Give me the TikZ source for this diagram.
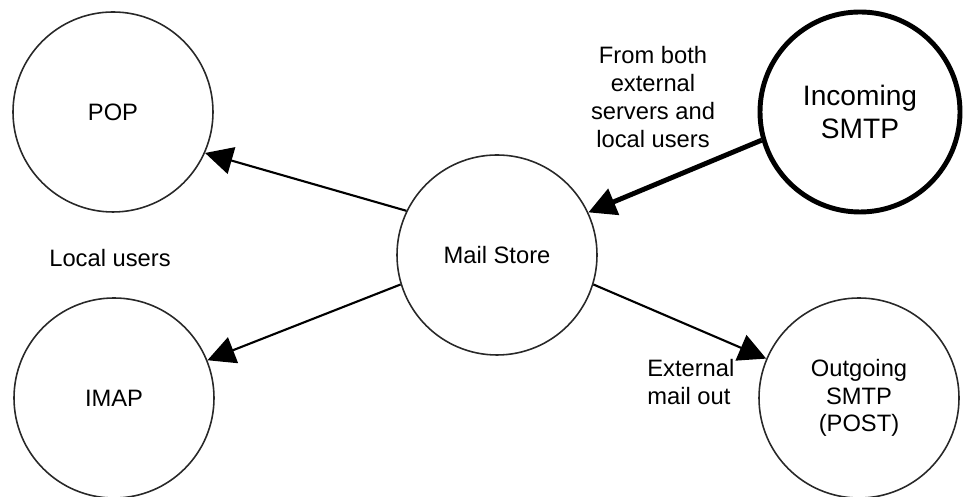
\documentclass[tikz,border=0pt]{standalone}
\usepackage{fontspec}
\setmainfont{Liberation Sans}
\usepackage{xcolor}
\definecolor{ringgray}{RGB}{40, 40, 40}
\usepackage{tikz}
\usetikzlibrary{arrows.meta,positioning,calc}

\begin{document}
\begin{tikzpicture}[
    font=\fontsize{13.5}{15.8}\selectfont,
    proto/.style={circle, draw=ringgray, line width=0.9pt, minimum size=4cm, inner sep=0pt, align=center},
    hub/.style={proto, line width=2.8pt, draw=black, font=\fontsize{16}{18.5}\selectfont},
    note/.style={align=center, inner sep=0pt},
    arrow/.style={-{Triangle[length=0.55cm,width=0.55cm]}, line width=1.2pt},
    fat arrow/.style={arrow, line width=2.8pt}
]
\useasboundingbox (0,0) rectangle (19.34,9.94);

\node[proto] (store) at (9.94,4.84) {Mail Store};

\node[proto] (pop) at (2.26,7.70) {POP};
\node[proto] (imap) at (2.28,1.98) {IMAP};
\node[hub] (incoming) at (17.20,7.70) {Incoming\\SMTP};
\node[proto] (outgoing) at (17.18,1.98) {Outgoing\\SMTP\\(POST)};

% labels
\node[note] (fromboth) at (13.06,8.00) {From both\\external\\servers and\\local users};
\node[note] (localusers) at (2.20,4.78) {Local users};
\node[note, align=left, anchor=west] (extout) at (12.94,2.30) {External\\mail out};

% flows
\draw[arrow] (store.154) -- (pop.-24);
\draw[arrow] (store.-163) -- (imap.22);
\draw[fat arrow] (incoming.-164) -- (store.25);
\draw[arrow] (store.-17) -- (outgoing.157);

\end{tikzpicture}
\end{document}
